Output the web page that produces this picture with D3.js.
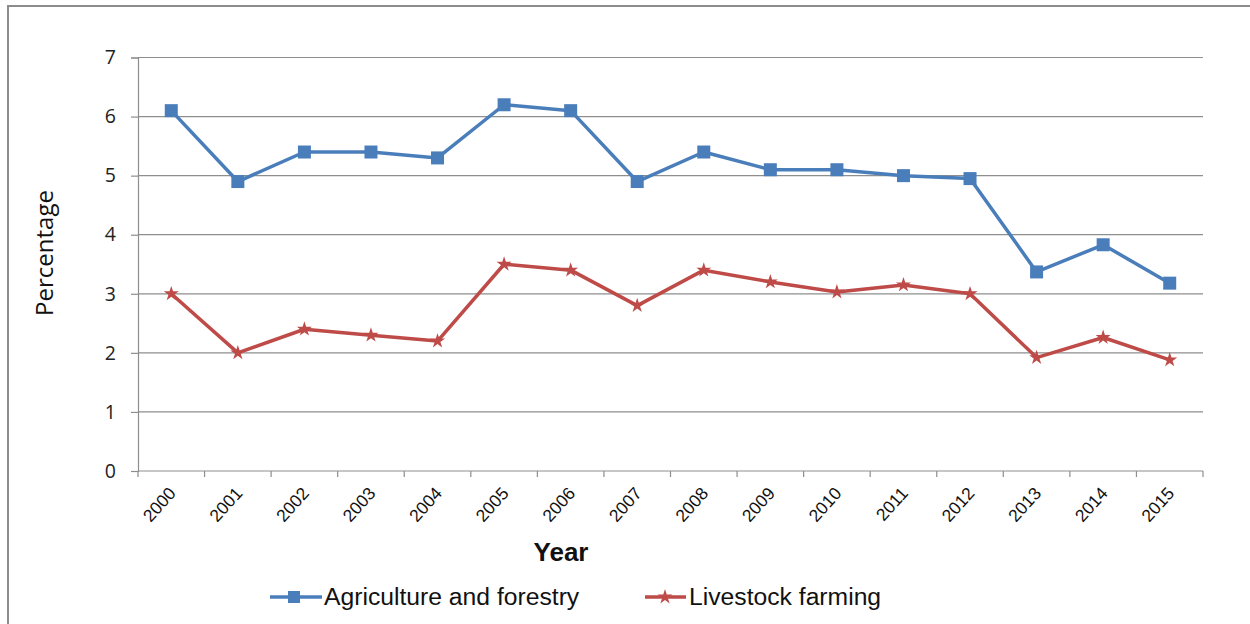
<!DOCTYPE html>
<html>
<head>
<meta charset="utf-8">
<script src="https://cdn.jsdelivr.net/npm/d3@7"></script>
<style>
  html, body { margin: 0; padding: 0; background: #fff; }
  svg { display: block; }
</style>
</head>
<body>
<svg id="chart" width="1250" height="624"></svg>
<script>
// Share of the sector, by year
const years = ["2000","2001","2002","2003","2004","2005","2006","2007","2008","2009","2010","2011","2012","2013","2014","2015"];
const agricultureForestry = [6.1, 4.9, 5.4, 5.4, 5.3, 6.2, 6.1, 4.9, 5.4, 5.1, 5.1, 5.0, 4.95, 3.37, 3.83, 3.18];
const livestockFarming   = [3.0, 2.0, 2.4, 2.3, 2.2, 3.5, 3.4, 2.8, 3.4, 3.2, 3.03, 3.15, 3.0, 1.92, 2.26, 1.88];
const yTicks = [0, 1, 2, 3, 4, 5, 6, 7];
const seriesNames = ["Agriculture and forestry", "Livestock farming"];

(function draw() {
  const svg = d3.select("#chart");
  const plotLeft = 138, plotRight = 1203, plotTop = 57.5, plotBottom = 471;
  const sans = "'Liberation Sans', Arial, sans-serif";

  // outer frame
  svg.append("rect")
    .attr("x", 8).attr("y", 6).attr("width", 1260).attr("height", 640)
    .attr("fill", "none").attr("stroke", "#8c8c8c").attr("stroke-width", 2);

  const x = d3.scaleBand().domain(years).range([plotLeft, plotRight]);
  const y = d3.scaleLinear().domain([0, 7]).range([plotBottom, plotTop]);

  // horizontal gridlines
  svg.append("g").selectAll("line").data(yTicks.filter(d => d > 0)).join("line")
    .attr("x1", plotLeft).attr("x2", plotRight)
    .attr("y1", d => y(d)).attr("y2", d => y(d))
    .attr("stroke", "#8e8e8e").attr("stroke-width", 1.2);

  // y axis
  const yAxis = svg.append("g").attr("transform", `translate(${plotLeft},0)`)
    .call(d3.axisLeft(y).tickValues(yTicks).tickSize(7).tickPadding(15).tickFormat(d3.format("d")));
  yAxis.select(".domain").attr("stroke", "#8e8e8e").attr("stroke-width", 1.2);
  yAxis.selectAll(".tick line").attr("stroke", "#8e8e8e").attr("stroke-width", 1.2);
  yAxis.selectAll(".tick text")
    .attr("font-family", "'Open Sans', sans-serif").attr("font-size", 19.5).attr("fill", "#222");

  // x axis with category boundary ticks
  const xg = svg.append("g").attr("transform", `translate(0,${plotBottom})`);
  xg.append("line").attr("x1", plotLeft).attr("x2", plotRight).attr("y1", 0).attr("y2", 0)
    .attr("stroke", "#8e8e8e").attr("stroke-width", 1.2);
  const bounds = years.map(d => x(d)).concat([plotRight]);
  xg.selectAll("line.b").data(bounds).join("line").attr("class", "b")
    .attr("x1", d => d).attr("x2", d => d).attr("y1", 0).attr("y2", 6)
    .attr("stroke", "#8e8e8e").attr("stroke-width", 1.2);
  xg.selectAll("text").data(years).join("text")
    .attr("transform", d => `translate(${x(d) + x.bandwidth() / 2 + 1},${19}) rotate(-48)`)
    .attr("text-anchor", "end").attr("dy", "0.35em")
    .attr("font-family", sans).attr("font-size", 17.5).attr("fill", "#111")
    .text(d => d);

  // axis titles
  svg.append("text").attr("x", 561).attr("y", 561).attr("text-anchor", "middle")
    .attr("font-family", sans).attr("font-weight", "bold")
    .attr("font-size", 26).attr("fill", "#111").text("Year");
  svg.append("text").attr("transform", "translate(53,253) rotate(-90)").attr("text-anchor", "middle")
    .attr("font-family", "'Open Sans', sans-serif").attr("font-size", 24).attr("fill", "#111")
    .text("Percentage");

  const cx = d => x(d) + x.bandwidth() / 2;
  const line = d3.line().x((d, i) => cx(years[i])).y(d => y(d));

  const blue = "#4a7ebb", red = "#be4b48";
  const star = d3.symbol().type(d3.symbolStar).size(70);

  // Agriculture and forestry
  svg.append("path").datum(agricultureForestry).attr("d", line)
    .attr("fill", "none").attr("stroke", blue).attr("stroke-width", 3.5).attr("stroke-linejoin", "round");
  svg.append("g").selectAll("rect").data(agricultureForestry).join("rect")
    .attr("x", (d, i) => cx(years[i]) - 6.5).attr("y", d => y(d) - 6.5)
    .attr("width", 13).attr("height", 13).attr("fill", blue);

  // Livestock farming
  svg.append("path").datum(livestockFarming).attr("d", line)
    .attr("fill", "none").attr("stroke", red).attr("stroke-width", 3.5).attr("stroke-linejoin", "round");
  svg.append("g").selectAll("path").data(livestockFarming).join("path")
    .attr("transform", (d, i) => `translate(${cx(years[i])},${y(d)})`)
    .attr("d", star).attr("fill", red);

  // legend
  const lg = svg.append("g");
  lg.append("line").attr("x1", 270).attr("x2", 322).attr("y1", 597).attr("y2", 597)
    .attr("stroke", blue).attr("stroke-width", 3.5);
  lg.append("rect").attr("x", 288).attr("y", 591).attr("width", 12).attr("height", 12).attr("fill", blue);
  lg.append("text").attr("x", 324).attr("y", 605)
    .attr("font-family", sans).attr("font-size", 24.7).attr("fill", "#111")
    .text(seriesNames[0]);
  lg.append("line").attr("x1", 645).attr("x2", 686).attr("y1", 597).attr("y2", 597)
    .attr("stroke", red).attr("stroke-width", 3.5);
  lg.append("path").attr("transform", "translate(665,597)").attr("d", star).attr("fill", red);
  lg.append("text").attr("x", 689).attr("y", 605)
    .attr("font-family", sans).attr("font-size", 24.7).attr("fill", "#111")
    .text(seriesNames[1]);
})();
</script>
</body>
</html>
